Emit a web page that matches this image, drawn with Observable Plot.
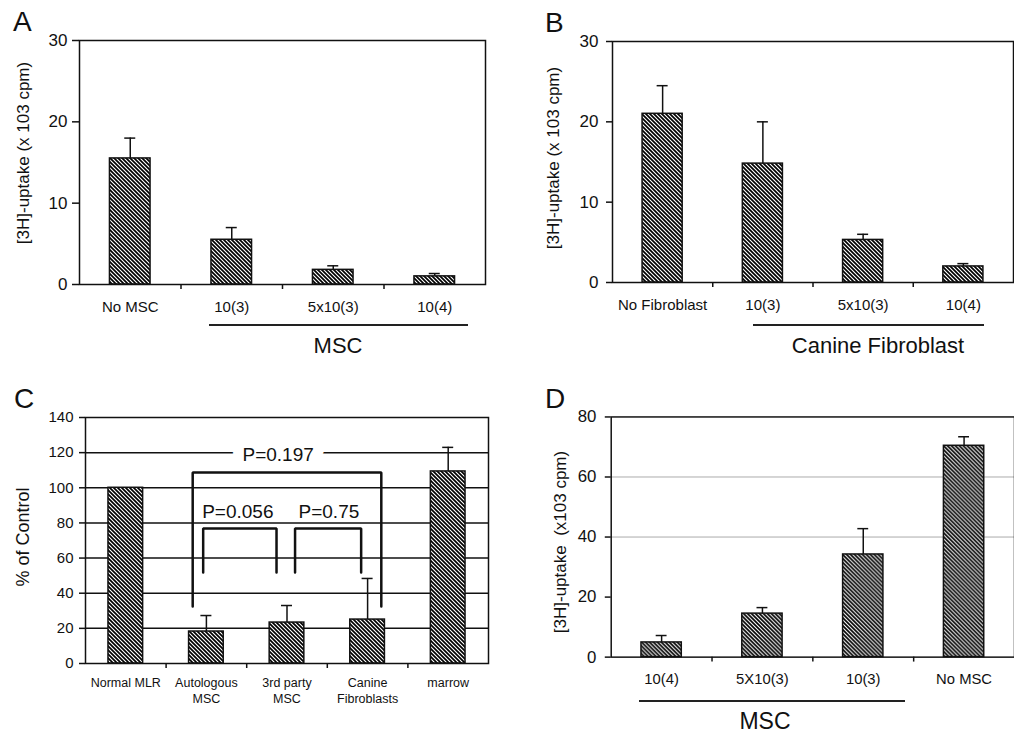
<!DOCTYPE html>
<html>
<head>
<meta charset="utf-8">
<script src="https://cdn.jsdelivr.net/npm/d3@7"></script>
<script src="https://cdn.jsdelivr.net/npm/@observablehq/plot@0.6"></script>
<style>
  html, body { margin: 0; padding: 0; background: #fff; }
  #page { position: relative; width: 1014px; height: 735px; overflow: hidden; background: #fff;
          font-family: 'Liberation Sans', Arial, Helvetica, sans-serif; color: #111; }
  .panel { position: absolute; }
  .letter { position: absolute; font-size: 28px; line-height: 1; }
  .ylab { position: absolute; white-space: nowrap; line-height: 1; transform: translate(-50%, -50%) rotate(-90deg); }
  .grp { position: absolute; white-space: nowrap; line-height: 1; transform: translateX(-50%); }
  .gline { position: absolute; height: 0; border-top: 2px solid #222; }
</style>
</head>
<body>
<svg width="0" height="0" style="position:absolute">
  <defs>
    <pattern id="hatch" patternUnits="userSpaceOnUse" width="4" height="4">
      <rect width="4" height="4" fill="#fff"></rect>
      <path d="M-1,-1 L5,5 M-1,3 L1,5 M3,-1 L5,1" stroke="#000" stroke-width="1.7"></path>
    </pattern>
  </defs>
</svg>
<div id="page"></div>
<script>
// ---------- data ----------
const A_cats = ["No MSC", "10(3)", "5x10(3)", "10(4)"];
const A_mean = [15.5, 5.5, 1.8, 1.0];
const A_err  = [2.5, 1.5, 0.5, 0.35];
const A_ticks = [0, 10, 20, 30];

const B_cats = ["No Fibroblast", "10(3)", "5x10(3)", "10(4)"];
const B_mean = [21.0, 14.8, 5.3, 2.0];
const B_err  = [3.5, 5.2, 0.7, 0.35];
const B_ticks = [0, 10, 20, 30];

const C_cats = ["Normal MLR", "Autologous\nMSC", "3rd party\nMSC", "Canine\nFibroblasts", "marrow"];
const C_mean = [100, 18.2, 23.3, 25.0, 109.3];
const C_err  = [0, 9.1, 9.7, 23.4, 13.7];
const C_ticks = [0, 20, 40, 60, 80, 100, 120, 140];
const C_grid = [20, 40, 60, 80, 100, 120];
// significance brackets (x in category-index units, y in % of control)
const C_brackets = [
  {label: "P=0.197", x1: 0.83, x2: 3.17, top: 108.7, bottom: 32.4, lx: 1.89, ly: 118.8},
  {label: "P=0.056", x1: 0.96, x2: 1.87, top: 76.8, bottom: 51.8, lx: 1.39, ly: 86.2},
  {label: "P=0.75",  x1: 2.10, x2: 2.92, top: 76.8, bottom: 51.8, lx: 2.52, ly: 86.2}
];

const D_cats = ["10(4)", "5X10(3)", "10(3)", "No MSC"];
const D_mean = [4.9, 14.5, 34.2, 70.4];
const D_err  = [2.3, 2.0, 8.6, 3.0];
const D_ticks = [0, 20, 40, 60, 80];
const D_grid = [40, 60];

// ---------- drawing ----------
const INK = "#111";
const FONT = "'Liberation Sans', Arial, Helvetica, sans-serif";
const page = document.getElementById("page");

function panel(o) {
  const n = o.cats.length;
  const rows = o.cats.map((c, i) => ({i, c, v: o.mean[i], e: o.err[i]}));
  const withErr = rows.filter(d => d.e > 0);
  const bandPx = (o.width - o.ml - o.mr) / n;
  const capHalf = 5.5 / bandPx;
  const svg = Plot.plot({
    width: o.width, height: o.height,
    marginLeft: o.ml, marginRight: o.mr, marginTop: o.mt, marginBottom: o.mb,
    x: {type: "linear", domain: [-0.5, n - 0.5], axis: null},
    y: {domain: [0, o.yMax], axis: null},
    style: {fontFamily: FONT, color: INK, background: "transparent", overflow: "visible"},
    marks: [
      ...(o.under || []),
      Plot.rect(rows, {x1: d => d.i - o.barHalf, x2: d => d.i + o.barHalf, y1: 0, y2: "v",
        fill: "url(#hatch)", stroke: INK, strokeWidth: 1.5}),
      Plot.ruleX(withErr, {x: "i", y1: "v", y2: d => d.v + d.e, stroke: INK, strokeWidth: 1.5}),
      Plot.ruleY(withErr, {y: d => d.v + d.e, x1: d => d.i - capHalf, x2: d => d.i + capHalf, stroke: INK, strokeWidth: 1.5}),
      ...(o.extra || []),
      Plot.frame({stroke: INK, strokeWidth: 1.5}),
      Plot.axisY({ticks: o.yTicks, tickSize: o.ySize, tickPadding: o.yPad, fontSize: o.yFont, label: null, strokeWidth: 1.5}),
      Plot.axisX({ticks: d3.range(n), tickSize: 0, tickPadding: o.xPad, tickFormat: i => o.cats[i],
        fontSize: o.xFont, label: null, lineHeight: o.lineHeight || 1}),
      Plot.axisX({ticks: d3.range(1, n).map(i => i - 0.5), tickSize: 5, tickFormat: () => "", label: null, strokeWidth: 1.5})
    ]
  });
  const div = document.createElement("div");
  div.className = "panel";
  div.style.left = o.left + "px";
  div.style.top = o.top + "px";
  div.appendChild(svg);
  page.appendChild(div);
}

function html(cls, text, css) {
  const el = document.createElement("div");
  el.className = cls;
  el.textContent = text;
  Object.assign(el.style, css);
  page.appendChild(el);
}

// Panel A
panel({cats: A_cats, mean: A_mean, err: A_err, yMax: 30, yTicks: A_ticks,
  left: 0, top: 0, width: 500, height: 325, ml: 79, mr: 15, mt: 40, mb: 41,
  yFont: 17, ySize: 7, yPad: 5, xFont: 15, xPad: 17, barHalf: 0.2});

// Panel B
panel({cats: B_cats, mean: B_mean, err: B_err, yMax: 30, yTicks: B_ticks,
  left: 500, top: 0, width: 514, height: 325, ml: 112, mr: 1, mt: 41, mb: 43,
  yFont: 17, ySize: 6, yPad: 8, xFont: 15, xPad: 17, barHalf: 0.2});

// Panel C
const bracketPts = C_brackets.flatMap(b =>
  [[b.x1, b.bottom], [b.x1, b.top], [b.x2, b.top], [b.x2, b.bottom]].map(([x, y]) => ({x, y, z: b.label})));
panel({cats: C_cats, mean: C_mean, err: C_err, yMax: 140, yTicks: C_ticks,
  left: 0, top: 370, width: 500, height: 340, ml: 85, mr: 12, mt: 47, mb: 47,
  yFont: 15, ySize: 6, yPad: 6, xFont: 12.5, xPad: 12, barHalf: 0.215, lineHeight: 1.3,
  under: [Plot.ruleY(C_grid, {stroke: INK, strokeWidth: 1.5})],
  extra: [
    Plot.text(C_brackets.slice(0, 1), {x: "lx", y: "ly", text: "label", fontSize: 19, fill: INK,
      stroke: "#fff", strokeWidth: 22}),
    Plot.line(bracketPts, {x: "x", y: "y", z: "z", stroke: INK, strokeWidth: 2.5, strokeLinejoin: "miter"}),
    Plot.text(C_brackets.slice(1), {x: "lx", y: "ly", text: "label", fontSize: 19, fill: INK})
  ]});

// Panel D
panel({cats: D_cats, mean: D_mean, err: D_err, yMax: 80, yTicks: D_ticks,
  left: 500, top: 370, width: 520, height: 340, ml: 112, mr: 0, mt: 47, mb: 50,
  yFont: 17, ySize: 6, yPad: 9, xFont: 15, xPad: 17, barHalf: 0.2,
  under: [Plot.ruleY(D_grid, {stroke: "#aaa", strokeWidth: 1})]});

// panel letters
html("letter", "A", {left: "13px", top: "8px"});
html("letter", "B", {left: "545px", top: "9px"});
html("letter", "C", {left: "14px", top: "385px"});
html("letter", "D", {left: "545px", top: "385px"});

// y-axis titles
html("ylab", "[3H]-uptake (x 103 cpm)", {left: "23px", top: "153px", fontSize: "17px"});
html("ylab", "[3H]-uptake (x 103 cpm)", {left: "553px", top: "158px", fontSize: "17px"});
html("ylab", "% of Control", {left: "23px", top: "537px", fontSize: "18px"});
html("ylab", "[3H]-uptake  (x103 cpm)", {left: "560px", top: "542px", fontSize: "17px", whiteSpace: "pre"});

// group labels
html("gline", "", {left: "209px", top: "324px", width: "259px"});
html("grp", "MSC", {left: "338px", top: "335px", fontSize: "22px"});
html("gline", "", {left: "753px", top: "324px", width: "231px"});
html("grp", "Canine Fibroblast", {left: "878px", top: "335px", fontSize: "22px"});
html("gline", "", {left: "639px", top: "700px", width: "266px"});
html("grp", "MSC", {left: "765px", top: "710px", fontSize: "23px"});
</script>
</body>
</html>
